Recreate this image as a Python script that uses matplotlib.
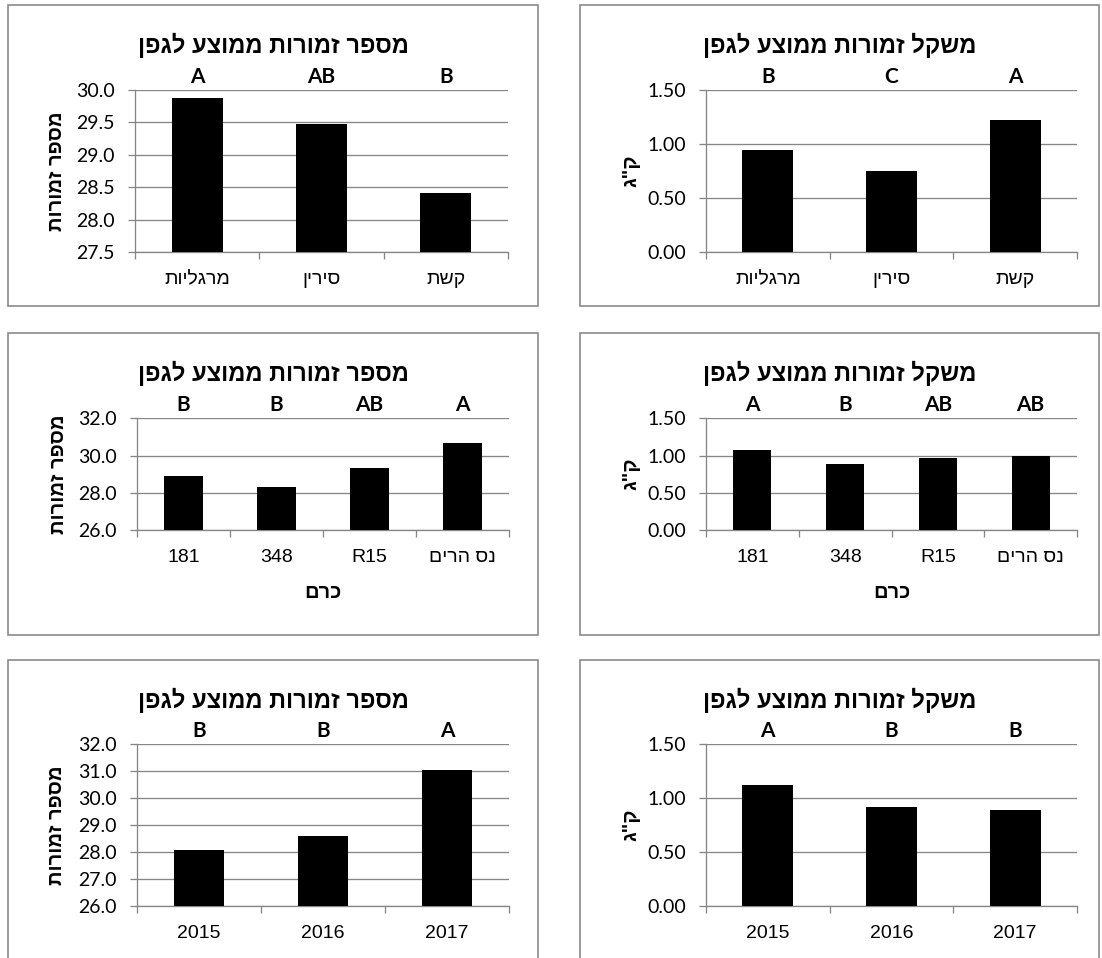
import matplotlib
matplotlib.use('Agg')
import numpy as np
import matplotlib.pyplot as plt
from matplotlib.patches import Rectangle
from matplotlib.ticker import FixedLocator, FormatStrFormatter, NullFormatter
import matplotlib.transforms as mtransforms

# ---------------- data ----------------
title_count = 'מספר זמורות ממוצע לגפן'
title_weight = 'משקל זמורות ממוצע לגפן'
ylabel_count = 'מספר זמורות'
ylabel_weight = 'ק"ג'
xlabel_vineyard = 'כרם'

cultivars = ['מרגליות', 'סירין', 'קשת']
cultivar_count = [29.87, 29.47, 28.41]
cultivar_count_letters = ['A', 'AB', 'B']
cultivar_weight = [0.94, 0.75, 1.22]
cultivar_weight_letters = ['B', 'C', 'A']

vineyards = ['181', '348', 'R15', 'נס הרים']
vineyard_count = [28.90, 28.33, 29.31, 30.69]
vineyard_count_letters = ['B', 'B', 'AB', 'A']
vineyard_weight = [1.07, 0.89, 0.97, 1.00]
vineyard_weight_letters = ['A', 'B', 'AB', 'AB']

years = ['2015', '2016', '2017']
year_count = [28.08, 28.61, 31.05]
year_count_letters = ['B', 'B', 'A']
year_weight = [1.12, 0.92, 0.89]
year_weight_letters = ['A', 'B', 'B']

# ---------------- helpers ----------------
W, H, DPI = 1102, 958, 100
GRAY = '#868686'
HEB = ['Liberation Sans', 'DejaVu Sans']
NUM = ['Lato', 'Liberation Sans', 'DejaVu Sans']


def rtl(s):
    """Visual order for a left-to-right renderer."""
    if any('\u0590' <= c <= '\u05FF' for c in s):
        return s[::-1]
    return s


def px(v):
    return v * 72.0 / DPI


fig = plt.figure(figsize=(W / DPI, H / DPI), dpi=DPI)
fig.patch.set_facecolor('white')


def box(x0, x1, y0, y1):
    r = Rectangle((x0 / W, 1 - y1 / H), (x1 - x0) / W, (y1 - y0) / H,
                  transform=fig.transFigure, fill=False, edgecolor=GRAY,
                  lw=px(1.6), zorder=0)
    fig.add_artist(r)


def panel(rect_px, box_px, cats, vals, letters, ylim, ystep, yfmt, title,
          ylabel, ylabel_x, xlabel=None):
    x0, x1, yt, yb = rect_px
    ax = fig.add_axes([x0 / W, 1 - yb / H, (x1 - x0) / W, (yb - yt) / H])
    n = len(cats)
    xs = list(range(n))
    ax.bar(xs, vals, width=0.41, color='black', zorder=3)
    ax.set_xlim(-0.5, n - 0.5)
    ax.set_ylim(*ylim)
    ticks = np.arange(ylim[0], ylim[1] + ystep / 2, ystep)
    ax.yaxis.set_major_locator(FixedLocator(ticks))
    ax.yaxis.set_major_formatter(FormatStrFormatter(yfmt))
    ax.set_axisbelow(True)
    ax.yaxis.grid(True, color=GRAY, lw=px(1.3))
    for s in ['top', 'right']:
        ax.spines[s].set_visible(False)
    for s in ['left', 'bottom']:
        ax.spines[s].set_color(GRAY)
        ax.spines[s].set_linewidth(px(1.3))
    ax.tick_params(axis='y', length=px(7), width=px(1.3), color=GRAY,
                   pad=px(13), labelsize=14)
    for lab in ax.get_yticklabels():
        lab.set_family(NUM)
    # category boundaries as major ticks, labels on minor ticks
    ax.xaxis.set_major_locator(FixedLocator([i - 0.5 for i in range(n + 1)]))
    ax.xaxis.set_major_formatter(NullFormatter())
    ax.xaxis.set_minor_locator(FixedLocator(xs))
    ax.set_xticklabels([rtl(c) for c in cats], minor=True)
    ax.tick_params(axis='x', which='major', length=px(7), width=px(1.3),
                   color=GRAY)
    ax.tick_params(axis='x', which='minor', length=0, pad=px(19),
                   labelsize=14)
    for lab in ax.get_xticklabels(minor=True):
        lab.set_family(HEB)
    # significance letters
    trans = mtransforms.blended_transform_factory(ax.transData, ax.transAxes)
    for x, l in zip(xs, letters):
        ax.annotate(l, xy=(x, 1), xycoords=trans, xytext=(0, px(7)),
                    textcoords='offset points', ha='center', va='baseline',
                    fontsize=15, fontweight='bold', family=NUM)
    ax.set_ylabel(rtl(ylabel), fontsize=14.5, fontweight='bold', family=HEB,
                  rotation=90, va='center', ha='center',
                  rotation_mode='default')
    ax.yaxis.set_label_coords((ylabel_x - x0) / (x1 - x0), 0.5)
    if xlabel:
        ax.set_xlabel(rtl(xlabel), fontsize=14.5, fontweight='bold',
                      family=HEB, va='center')
        ax.xaxis.set_label_coords(0.5, -(592 - yb) / (yb - yt))
    bx0, bx1, by0, by1 = box_px
    box(bx0, bx1, by0, by1)
    fig.text(((bx0 + bx1) / 2) / W, 1 - (by0 + 40) / H, rtl(title),
             ha='center', va='center', fontsize=17, fontweight='bold',
             family=HEB)
    return ax


LX0, LX1 = 135, 508
RX0, RX1 = 706, 1077
LB = (8, 538)
RB = (580, 1099)

panel((LX0, LX1, 89.7, 252), (LB[0], LB[1], 5, 306), cultivars,
      cultivar_count, cultivar_count_letters, (27.5, 30.0), 0.5, '%.1f',
      title_count, ylabel_count, 56)
panel((RX0, RX1, 89.7, 252), (RB[0], RB[1], 5, 306), cultivars,
      cultivar_weight, cultivar_weight_letters, (0, 1.5), 0.5, '%.2f',
      title_weight, ylabel_weight, 631)
panel((LX0 + 2, LX1 + 1, 418.3, 530), (LB[0], LB[1], 333, 635), vineyards,
      vineyard_count, vineyard_count_letters, (26, 32), 2.0, '%.1f',
      title_count, ylabel_count, 58, xlabel=xlabel_vineyard)
panel((RX0, RX1, 418.3, 530), (RB[0], RB[1], 333, 635), vineyards,
      vineyard_weight, vineyard_weight_letters, (0, 1.5), 0.5, '%.2f',
      title_weight, ylabel_weight, 631, xlabel=xlabel_vineyard)
panel((LX0 + 2, LX1 + 1, 744, 906), (LB[0], LB[1], 660, 975), years,
      year_count, year_count_letters, (26, 32), 1.0, '%.1f',
      title_count, ylabel_count, 56)
panel((RX0, RX1, 744, 906), (RB[0], RB[1], 660, 975), years,
      year_weight, year_weight_letters, (0, 1.5), 0.5, '%.2f',
      title_weight, ylabel_weight, 631)

fig.savefig('out.png', dpi=DPI, facecolor='white')
